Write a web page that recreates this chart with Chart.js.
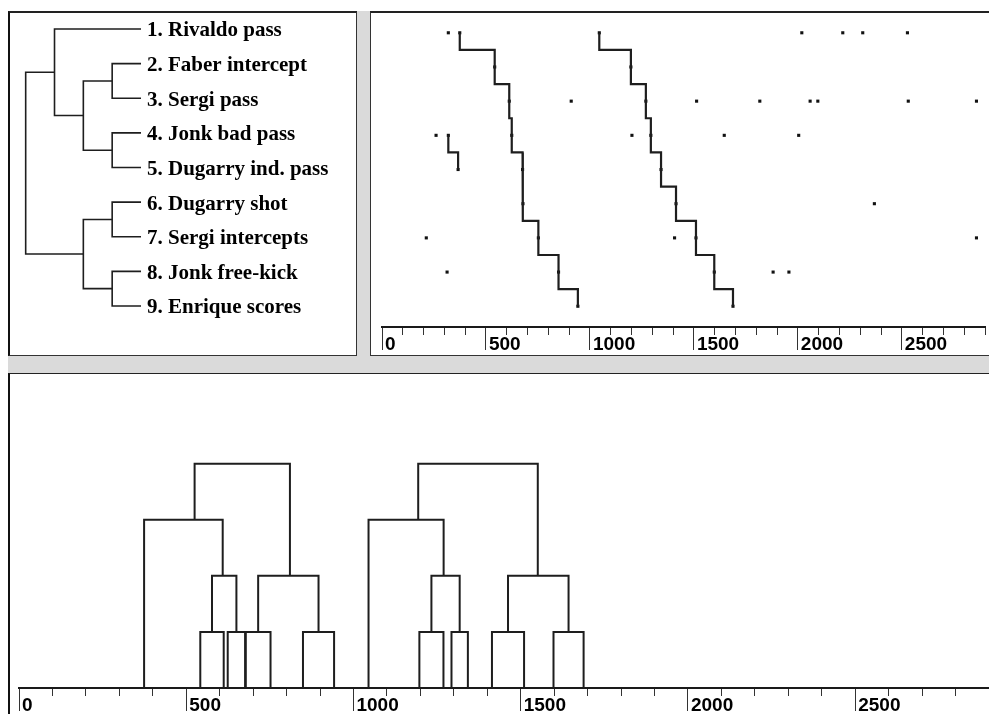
<!DOCTYPE html>
<html>
<head>
<meta charset="utf-8">
<script src="https://cdn.jsdelivr.net/npm/chart.js@4.4.1/dist/chart.umd.min.js"></script>
<style>
  html, body { margin: 0; padding: 0; background: #fff; }
  #frame { position: relative; width: 989px; height: 714px; overflow: hidden; background: #fff; }
  .box { position: absolute; box-sizing: border-box; }
  canvas { position: absolute; }
</style>
</head>
<body>
<div id="frame">
  <div class="box" style="left:8px; top:11px; width:981px; height:363px; background:#dadada;"></div>
  <div class="box" style="left:8px; top:11px; width:349px; height:345px; background:#fff; border-left:2px solid #111; border-top:2px solid #222; border-right:1px solid #333; border-bottom:1px solid #333;"></div>
  <div class="box" style="left:370px; top:11px; width:619px; height:345px; background:#fff; border-left:1px solid #333; border-top:2px solid #222; border-bottom:1px solid #333;"></div>
  <div class="box" style="left:8px; top:373px; width:981px; height:341px; background:#fff; border-left:2px solid #111; border-top:1px solid #222;"></div>
  <canvas id="typeTree" width="346" height="343" style="left:10px; top:12px;"></canvas>
  <canvas id="eventPlot" width="618" height="343" style="left:371px; top:12px;"></canvas>
  <canvas id="timeTree" width="979" height="340" style="left:10px; top:374px;"></canvas>
</div>
<script>
// --- data ---
const eventTypes = ['1. Rivaldo pass', '2. Faber intercept', '3. Sergi pass', '4. Jonk bad pass',
  '5. Dugarry ind. pass', '6. Dugarry shot', '7. Sergi intercepts', '8. Jonk free-kick', '9. Enrique scores'];

// two full occurrences of the pattern (time of event 1..9)
const patternA = [374, 542, 612, 624, 676, 678, 752, 849, 942];
const patternB = [1045, 1197, 1269, 1293, 1342, 1414, 1510, 1598, 1688];

// partial occurrence: event 4 -> event 5
const partialRows = [4, 5];
const partialTimes = [319, 366];

// remaining occurrences of each event type
const otherTimes = [
  [319, 2019, 2216, 2312, 2527],
  [],
  [910, 1513, 1817, 2059, 2096, 2531, 2859],
  [260, 1202, 1646, 2004],
  [],
  [2368],
  [213, 1407, 2859],
  [313, 1881, 1957],
  []
];

// cluster tree: leaves 0..8, merge k creates node 9+k
const mergeLeft = [1, 3, 5, 7, 9, 11, 0, 15];
const mergeRight = [2, 4, 6, 8, 10, 12, 13, 14];
const mergeHeight = [1, 1, 1, 1, 2, 2, 3, 4];

const timeLabels = [0, 500, 1000, 1500, 2000, 2500];

// --- helpers ---
Chart.defaults.color = '#000';
Chart.defaults.animation = false;
Chart.defaults.plugins.legend.display = false;
Chart.defaults.plugins.tooltip.enabled = false;

const LINE = '#1e1e1e';

function typeTreeSegments() {
    const pos = eventTypes.map((_, i) => ({ d: 0, r: i + 1 }));
    const segs = [];
    mergeLeft.forEach((a, k) => {
        const A = pos[a], B = pos[mergeRight[k]], h = mergeHeight[k];
        segs.push([{ x: A.d, y: A.r }, { x: h, y: A.r }, { x: h, y: B.r }, { x: B.d, y: B.r }]);
        pos.push({ d: h, r: (A.r + B.r) / 2 });
    });
    return segs;
}

function timeTreeSegments(times) {
    const nodes = times.map(t => ({ lo: t, hi: t, h: 0 }));
    const segs = [];
    mergeLeft.forEach((a, k) => {
        const A = nodes[a], B = nodes[mergeRight[k]], h = mergeHeight[k];
        const xa = (A.lo + A.hi) / 2, xb = (B.lo + B.hi) / 2;
        segs.push([{ x: xa, y: A.h }, { x: xa, y: h }, { x: xb, y: h }, { x: xb, y: B.h }]);
        nodes.push({ lo: Math.min(A.lo, B.lo), hi: Math.max(A.hi, B.hi), h: h });
    });
    return segs;
}

function staircase(times, rows) {
    const pts = [];
    times.forEach((t, i) => {
        if (i > 0) {
            const mid = (rows[i - 1] + rows[i]) / 2;
            pts.push({ x: times[i - 1], y: mid }, { x: t, y: mid });
        }
        pts.push({ x: t, y: rows[i] });
    });
    return pts;
}

function lineSet(data, width) {
    return { data: data, showLine: true, borderColor: LINE, borderWidth: width,
             pointRadius: 0, tension: 0, fill: false, clip: false };
}

function timeAxis(axisHeight) {
    return {
        type: 'linear', min: 0, max: 2900,
        ticks: {
            stepSize: 100, autoSkip: false, maxRotation: 0, minRotation: 0,
            align: 'start', labelOffset: 3, padding: -17, color: '#000',
            font: { family: 'Liberation Sans', weight: 'bold', size: 19 },
            callback: v => timeLabels.includes(v) ? String(v) : ''
        },
        grid: {
            drawOnChartArea: false, tickLength: 23, tickWidth: 1, tickColor: '#333',
            tickBorderDash: ctx => (ctx.tick && !timeLabels.includes(ctx.tick.value)) ? [7, 100] : []
        },
        border: { display: true, color: '#1a1a1a', width: 2 },
        afterFit: s => { s.height = axisHeight; s.paddingLeft = 0; s.paddingRight = 0; }
    };
}

const rowScale = { type: 'linear', min: 0.509, max: 9.607, reverse: true };
const allRows = eventTypes.map((_, i) => i + 1);

// --- 1. event type dendrogram ---
new Chart(document.getElementById('typeTree'), {
    type: 'scatter',
    data: { datasets: typeTreeSegments().map(s => lineSet(s, 1.6)) },
    options: {
        responsive: false, devicePixelRatio: 1,
        layout: { padding: { left: 0, right: 0, top: 0, bottom: 28 } },
        scales: {
            x: { type: 'linear', min: 0, max: 4.544, reverse: true, display: false },
            y: Object.assign({}, rowScale, {
                position: 'right',
                grid: { display: false, drawTicks: false }, border: { display: false },
                ticks: {
                    padding: 6, labelOffset: 2, color: '#000',
                    font: { family: 'Liberation Serif', weight: 'bold', size: 21 },
                    callback: v => eventTypes[v - 1]
                },
                afterBuildTicks: s => { s.ticks = allRows.map(v => ({ value: v })); },
                afterFit: s => { s.width = 215; s.paddingTop = 0; s.paddingBottom = 0; }
            })
        }
    }
});

// --- 2. event occurrences over time ---
const dotData = [];
otherTimes.forEach((list, i) => list.forEach(t => dotData.push({ x: t, y: i + 1 })));
patternA.forEach((t, i) => dotData.push({ x: t, y: i + 1 }));
patternB.forEach((t, i) => dotData.push({ x: t, y: i + 1 }));
partialTimes.forEach((t, i) => dotData.push({ x: t, y: partialRows[i] }));

new Chart(document.getElementById('eventPlot'), {
    type: 'scatter',
    data: {
        datasets: [
            lineSet(staircase(patternA, allRows), 2.2),
            lineSet(staircase(patternB, allRows), 2.2),
            lineSet(staircase(partialTimes, partialRows), 2.2),
            { data: dotData, pointRadius: 2.2, pointStyle: 'rect', backgroundColor: '#111', borderWidth: 0 }
        ]
    },
    options: {
        responsive: false, devicePixelRatio: 1,
        layout: { padding: { left: 11, right: 1, top: 0, bottom: 0 } },
        scales: {
            x: timeAxis(28),
            y: Object.assign({}, rowScale, { display: false })
        }
    }
});

// --- 3. dendrogram of occurrences on the time line ---
new Chart(document.getElementById('timeTree'), {
    type: 'scatter',
    data: {
        datasets: timeTreeSegments(patternA).concat(timeTreeSegments(patternB)).map(s => lineSet(s, 2))
    },
    options: {
        responsive: false, devicePixelRatio: 1,
        layout: { padding: { left: 9, right: 0, top: 0, bottom: 0 } },
        scales: {
            x: timeAxis(26),
            y: { type: 'linear', min: 0, max: 5.6, display: false }
        }
    }
});
</script>
</body>
</html>
